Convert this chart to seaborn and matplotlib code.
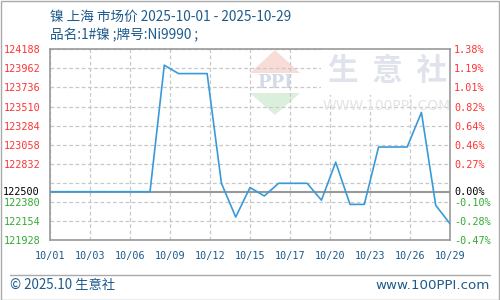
import numpy as np
import pandas as pd
import matplotlib
matplotlib.use("Agg")
import matplotlib.pyplot as plt
from matplotlib.patches import Polygon, Rectangle
from matplotlib.lines import Line2D
import seaborn as sns

# ---------------- data ----------------
dates = [f"10/{d:02d}" for d in range(1, 30)]
prices = [122500, 122500, 122500, 122500, 122500, 122500, 122500, 122500,
          124000, 123900, 123900, 123900, 122600, 122200, 122550, 122450,
          122600, 122600, 122600, 122400, 122850, 122350, 122350, 123030,
          123030, 123030, 123440, 122340, 122120]
base_price = 122500
y_ticks = [121928, 122154, 122380, 122606, 122832, 123058, 123284, 123510, 123736, 123962, 124188]
y_labels = ["121928", "122154", "122380", "", "122832", "123058", "123284", "123510", "123736", "123962", "124188"]
pct_labels = ["-0.47%", "-0.28%", "-0.10%", "", "0.27%", "0.46%", "0.64%", "0.82%", "1.01%", "1.19%", "1.38%"]
x_tick_labels = ["10/01", "10/03", "10/06", "10/09", "10/12", "10/15", "10/17", "10/20", "10/23", "10/26", "10/29"]
title = "镍 上海 市场价 2025-10-01 - 2025-10-29"
subtitle = "品名:1#镍 ;牌号:Ni9990 ;"

df = pd.DataFrame({"idx": np.arange(len(dates)), "date": dates, "price": prices})

# ---------------- style ----------------
sns.set_theme(style="white")
plt.rcParams['font.family'] = ['Noto Sans CJK SC', 'DejaVu Sans']

BLUE_TXT = "#1e5a8c"
RED = "#ff3333"
GREEN = "#33aa33"
GRID = "#c8c8c8"
FRAME = "#999999"
LINE = "#3a9ad9"
MONO = ['DejaVu Sans Mono']

W, H = 500, 300
fig = plt.figure(figsize=(5, 3), dpi=100)
fig.patch.set_facecolor("white")
ax = fig.add_axes([50 / W, (H - 240) / H, 400 / W, 190.7 / H])

n = len(dates)
ax.set_xlim(0, n - 1)
ax.set_ylim(y_ticks[0], y_ticks[-1])

# grid
ax.set_axisbelow(True)
ax.set_yticks(y_ticks)
xt = np.linspace(0, n - 1, len(x_tick_labels))
ax.set_xticks(xt)
ax.grid(True, color=GRID, linestyle=(0, (3, 2)), linewidth=0.9)

# watermark logo (decoration)
logo_red = Polygon([[275 / W, 1 - 50 / H], [250 / W, 1 - 73 / H], [300 / W, 1 - 73 / H]],
                   closed=True, transform=fig.transFigure, facecolor="#f8dcd8", edgecolor="none", zorder=0.3)
logo_green = Polygon([[250 / W, 1 - 93 / H], [300 / W, 1 - 93 / H], [275 / W, 1 - 115 / H]],
                     closed=True, transform=fig.transFigure, facecolor="#dcefdc", edgecolor="none", zorder=0.3)
ax.add_artist(logo_red)
ax.add_artist(logo_green)
ax.text(275 / W, 1 - 82.5 / H, "PPI", transform=fig.transFigure, ha="center", va="center",
        fontsize=13, fontweight="bold", family=['DejaVu Serif'], color="#d4dae8", zorder=0.35)
ax.text(388 / W, 1 - 71 / H, "生  意  社", transform=fig.transFigure, ha="center", va="center",
        fontsize=22, fontweight="bold", color="#e0e3ec", zorder=1,
        bbox=dict(boxstyle="square,pad=0.25", facecolor="white", edgecolor="none"))
ax.text(387 / W, 1 - 106 / H, "WWW.100PPI.COM", transform=fig.transFigure, ha="center", va="center",
        fontsize=10, family=['DejaVu Sans'], color="#e4e4e4", zorder=1)

# baseline
ax.axhline(base_price, color=FRAME, linewidth=1.5, zorder=2)

# line
sns.lineplot(data=df, x="idx", y="price", ax=ax, color=LINE, linewidth=1.2, zorder=3)
ax.set_xlabel("")
ax.set_ylabel("")

for s in ax.spines.values():
    s.set_color(FRAME)
    s.set_linewidth(1.2)

ax.tick_params(axis="both", length=0)
ax.set_xticklabels(x_tick_labels, family=MONO, fontsize=7.3, color=BLUE_TXT)
ax.tick_params(axis="x", pad=8)
ax.set_yticklabels(y_labels, family=MONO, fontsize=7.3)
ax.tick_params(axis="y", pad=7)
for lab, v in zip(ax.get_yticklabels(), y_ticks):
    lab.set_color(RED if v > base_price else GREEN)

# right axis with percentages
ax2 = ax.twinx()
ax2.set_ylim(ax.get_ylim())
ax2.set_yticks(y_ticks)
ax2.set_yticklabels(pct_labels, family=MONO, fontsize=7.3)
ax2.tick_params(axis="y", length=0, pad=3)
for lab, v in zip(ax2.get_yticklabels(), y_ticks):
    lab.set_color(RED if v > base_price else GREEN)
for s in ax2.spines.values():
    s.set_visible(False)
ax2.grid(False)

# baseline labels
ax.text(-0.025, base_price, f"{base_price}", transform=ax.get_yaxis_transform(), ha="right", va="center",
        family=MONO, fontsize=7.3, color="black")
ax2.text(1.01, base_price, "0.00%", transform=ax2.get_yaxis_transform(), ha="left", va="center",
         family=MONO, fontsize=7.3, color="black")

# titles
fig.text(50 / W, 1 - 17 / H, title, ha="left", va="center", fontsize=9.8, color=BLUE_TXT)
fig.text(50 / W, 1 - 35 / H, subtitle, ha="left", va="center", fontsize=9.8, color=BLUE_TXT)

# footer
fig.add_artist(Line2D([10 / W, 490 / W], [1 - 275 / H, 1 - 275 / H], transform=fig.transFigure,
                      color="#aaaaaa", linewidth=1))
fig.text(10 / W, 1 - 285.5 / H, "© 2025.10 生意社", ha="left", va="center", fontsize=9.6, color=BLUE_TXT)
fig.text(490 / W, 1 - 285.5 / H, "www.100PPI.com", ha="right", va="center", fontsize=9.6,
         family=['DejaVu Sans'], color=BLUE_TXT)

# outer border
fig.add_artist(Rectangle((0.001, 0.001), 0.997, 0.997, transform=fig.transFigure,
                         facecolor="none", edgecolor="#aaaaaa", linewidth=1))

fig.savefig("out.png", dpi=100, facecolor="white")
